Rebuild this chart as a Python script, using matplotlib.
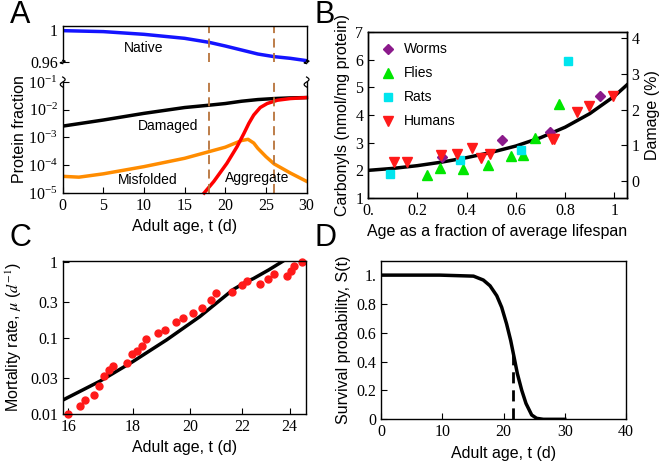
import matplotlib

matplotlib.use("Agg")
import matplotlib.pyplot as plt
import numpy as np
from matplotlib.ticker import FixedLocator, NullLocator, LogFormatterMathtext

plt.rcParams["font.family"] = ["Liberation Sans", "DejaVu Sans"]
plt.rcParams["font.serif"] = ["Liberation Serif", "DejaVu Serif"]
plt.rcParams["mathtext.fontset"] = "stix"
plt.rcParams["xtick.direction"] = "in"
plt.rcParams["ytick.direction"] = "in"
plt.rcParams["axes.linewidth"] = 1.0

# ---------------- Panel A data ----------------
native_t = [0, 5, 10, 15, 18, 20, 22, 24, 26, 28, 30]
native_v = [0.9992, 0.998, 0.9946, 0.9896, 0.9846, 0.980, 0.975, 0.970, 0.9667, 0.9646, 0.9617]

damaged_t = [0, 5, 10, 15, 18, 20, 22, 24, 26, 28, 30]
damaged_log = [-2.59, -2.37, -2.13, -1.92, -1.836, -1.776, -1.693, -1.633, -1.597, -1.573, -1.561]

misfolded_t = [0, 2, 5, 10, 15, 18, 20, 21, 22, 22.8, 23.5, 24, 25, 26, 28, 30]
misfolded_log = [-4.40, -4.43, -4.31, -4.05, -3.75, -3.51, -3.35, -3.23, -3.11, -3.066, -3.20, -3.39, -3.69, -3.95, -4.28, -4.58]

aggregate_t = [17.4, 18.6, 20.2, 21.45, 22.3, 22.9, 23.5, 24.3, 25.15, 26.4, 28.0, 30]
aggregate_log = [-5.0, -4.58, -3.93, -3.33, -2.85, -2.49, -2.19, -1.92, -1.776, -1.657, -1.597, -1.561]

event_times = [18, 26]

# ---------------- Panel B data ----------------
worms_x = [0.30, 0.545, 0.737, 0.943]
worms_y = [2.5, 3.08, 3.37, 4.67]
flies_x = [0.24, 0.29, 0.384, 0.486, 0.58, 0.63, 0.677, 0.775]
flies_y = [1.82, 2.1, 2.05, 2.2, 2.53, 2.54, 3.16, 4.4]
rats_x = [0.088, 0.373, 0.62, 0.811]
rats_y = [1.87, 2.38, 2.74, 5.95]
humans_x = [0.106, 0.156, 0.296, 0.36, 0.423, 0.457, 0.495, 0.746, 0.756, 0.848, 0.895, 0.995]
humans_y = [2.30, 2.30, 2.54, 2.6, 2.8, 2.43, 2.6, 3.13, 3.13, 4.12, 4.33, 4.7]
fit_x = [0.0, 0.1, 0.2, 0.3, 0.4, 0.5, 0.6, 0.7, 0.8, 0.9, 1.0, 1.05]
fit_y = [2.0, 2.07, 2.17, 2.3, 2.46, 2.65, 2.88, 3.18, 3.56, 4.05, 4.68, 5.08]

# ---------------- Panel C data ----------------
mort_t = [16.0, 16.35, 16.50, 16.77, 16.92, 17.08, 17.25, 17.37, 17.81, 17.99, 18.15, 18.33,
          18.45, 18.87, 19.10, 19.48, 19.73, 20.10, 20.43, 20.77, 20.97, 21.58, 22.01, 22.20,
          22.73, 23.07, 23.32, 23.90, 24.05, 24.21, 24.53]
mort_mu = [0.010, 0.0126, 0.0151, 0.0179, 0.023, 0.0311, 0.038, 0.043, 0.0466, 0.061, 0.068, 0.077,
           0.096, 0.115, 0.127, 0.162, 0.181, 0.215, 0.25, 0.315, 0.39, 0.40, 0.49, 0.55,
           0.51, 0.60, 0.68, 0.64, 0.76, 0.88, 0.98]
model_t = [15.84, 16.96, 18.02, 19.16, 20.36, 21.64, 22.2, 22.46, 23.1, 23.74]
model_mu = [0.0152, 0.027, 0.049, 0.094, 0.19, 0.43, 0.55, 0.60, 0.78, 1.03]

# ---------------- Panel D data ----------------
surv_t = [0, 9.6, 15.1, 16.7, 17.8, 18.9, 19.7, 20.5, 21.17, 21.72, 22.26, 22.97, 23.67, 24.6, 25.4, 26.5, 30]
surv_s = [1.0, 1.0, 0.993, 0.966, 0.926, 0.857, 0.777, 0.662, 0.547, 0.432, 0.317, 0.202, 0.11, 0.03, 0.007, 0.0, 0.0]
median_t = 21.5
median_s = 0.455

fig = plt.figure(figsize=(6.6, 4.62), dpi=100)

label_fs = 11.5
tick_fs = 11.5
note_fs = 10


def style_ticks(ax):
    ax.tick_params(labelsize=tick_fs, labelfontfamily="serif", length=4, width=0.8)


def break_mark(ax, x, y):
    s = np.linspace(-1, 1, 20)
    ax.plot(x + 0.01 * np.sin(np.pi * s), y + 0.045 * s, transform=ax.transAxes,
            color="black", lw=0.9, clip_on=False)


# ---------------- Panel A ----------------
axA1 = fig.add_axes([0.095, 0.8658, 0.3695, 0.0779])
axA2 = fig.add_axes([0.095, 0.5823, 0.3695, 0.2402])

axA1.plot(native_t, native_v, color="#1414ff", lw=2.5)
axA1.set_xlim(0, 30)
axA1.set_ylim(0.96, 1.005)
axA1.spines["bottom"].set_visible(False)
axA1.xaxis.set_visible(False)
axA1.set_yticks([0.96, 1.0])
axA1.set_yticklabels(["0.96", "1"])
style_ticks(axA1)
axA1.text(10, 0.977, "Native", fontsize=note_fs, ha="center", va="center")

damaged = 10 ** np.array(damaged_log)
misfolded = 10 ** np.array(misfolded_log)
aggregate = 10 ** np.array(aggregate_log)
axA2.semilogy(damaged_t, damaged, color="black", lw=2.5)
axA2.semilogy(misfolded_t, misfolded, color="#ff8c00", lw=2.5)
axA2.semilogy(aggregate_t, aggregate, color="#ff0000", lw=2.5, clip_on=False)
axA2.set_xlim(0, 30)
axA2.set_ylim(1e-5, 1e-1)
axA2.spines["top"].set_visible(False)
axA2.yaxis.set_major_locator(FixedLocator([1e-5, 1e-4, 1e-3, 1e-2, 1e-1]))
axA2.yaxis.set_major_formatter(LogFormatterMathtext())
axA2.yaxis.set_minor_locator(NullLocator())
axA2.set_xticks([0, 5, 10, 15, 20, 25, 30])
style_ticks(axA2)
axA2.set_xlabel("Adult age, t (d)", fontsize=label_fs)
axA2.set_ylabel("Protein fraction", fontsize=label_fs)
axA2.yaxis.set_label_coords(-0.145, 0.58)
axA2.text(13, 2.6e-3, "Damaged", fontsize=note_fs, ha="center", va="center")
axA2.text(10.5, 3.0e-5, "Misfolded", fontsize=note_fs, ha="center", va="center")
axA2.text(23.9, 3.6e-5, "Aggregate", fontsize=note_fs, ha="center", va="center")

for tv in event_times:
    axA1.axvline(tv, color="#b8733a", lw=1.3, ls=(0, (5, 3)))
    axA2.axvline(tv, color="#b8733a", lw=1.3, ls=(0, (5, 3)))

break_mark(axA1, 0.0, 0.0)
break_mark(axA1, 1.0, 0.0)
break_mark(axA2, 0.0, 1.0)
break_mark(axA2, 1.0, 1.0)

# ---------------- Panel B ----------------
axB = fig.add_axes([0.558, 0.5714, 0.3915, 0.3593])
axB.plot(fit_x, fit_y, color="black", lw=2.5, zorder=2)
axB.plot(worms_x, worms_y, "D", color="#8b1a8b", ms=5, ls="none", label="Worms", zorder=3)
axB.plot(flies_x, flies_y, "^", color="#00e600", ms=7, ls="none", label="Flies", zorder=3)
axB.plot(rats_x, rats_y, "s", color="#00e5ee", ms=6, ls="none", label="Rats", zorder=3)
axB.plot(humans_x, humans_y, "v", color="#ff1a1a", ms=7, ls="none", label="Humans", zorder=3)
axB.set_xlim(0, 1.05)
axB.set_ylim(1, 7)
axB.set_xticks([0, 0.2, 0.4, 0.6, 0.8, 1.0])
axB.set_xticklabels(["0.", "0.2", "0.4", "0.6", "0.8", "1"])
axB.set_yticks([1, 2, 3, 4, 5, 6, 7])
style_ticks(axB)
axB.set_xlabel("Age as a fraction of average lifespan", fontsize=label_fs)
axB.set_ylabel("Carbonyls (nmol/mg protein)", fontsize=label_fs)
axB.legend(loc="upper left", frameon=False, fontsize=10, handletextpad=0.5,
           labelspacing=0.72, borderaxespad=0.35, handlelength=1.3, borderpad=0.4)

axB2 = axB.twinx()
axB2.set_ylim((1 - 1.625) / 1.286, (7 - 1.625) / 1.286)
axB2.set_yticks([0, 1, 2, 3, 4])
style_ticks(axB2)
axB2.set_ylabel("Damage (%)", fontsize=label_fs)

# ---------------- Panel C ----------------
axC = fig.add_axes([0.095, 0.1039, 0.3686, 0.3318])
axC.plot(model_t, model_mu, color="black", lw=2.5, clip_on=True)
axC.plot(mort_t, mort_mu, "o", color="#ff1a1a", ms=5, ls="none", clip_on=False)
axC.set_xscale("log")
axC.set_yscale("log")
axC.set_xlim(15.84, 24.73)
axC.set_ylim(0.01, 1.03)
axC.xaxis.set_major_locator(FixedLocator([16, 18, 20, 22, 24]))
axC.xaxis.set_minor_locator(NullLocator())
axC.set_xticklabels(["16", "18", "20", "22", "24"])
axC.yaxis.set_major_locator(FixedLocator([0.01, 0.03, 0.1, 0.3, 1]))
axC.yaxis.set_minor_locator(NullLocator())
axC.set_yticklabels(["0.01", "0.03", "0.1", "0.3", "1"])
style_ticks(axC)
axC.set_xlabel("Adult age, t (d)", fontsize=label_fs)
axC.set_ylabel(r"Mortality rate, $\mu$ ($d^{-1}$)", fontsize=label_fs)

# ---------------- Panel D ----------------
axD = fig.add_axes([0.5773, 0.0924, 0.3712, 0.3433])
axD.plot(surv_t, surv_s, color="black", lw=2.5)
axD.plot([median_t, median_t], [0, median_s], color="black", lw=2, ls=(0, (4, 2.5)))
axD.set_xlim(0, 40)
axD.set_ylim(0, 1.1)
axD.set_xticks([0, 10, 20, 30, 40])
axD.set_yticks([0, 0.2, 0.4, 0.6, 0.8, 1.0])
axD.set_yticklabels(["0", "0.2", "0.4", "0.6", "0.8", "1."])
style_ticks(axD)
axD.set_xlabel("Adult age, t (d)", fontsize=label_fs)
axD.set_ylabel("Survival probability, S(t)", fontsize=label_fs)

# panel letters
for letter, x, y in [("A", 0.015, 0.968), ("B", 0.477, 0.968), ("C", 0.015, 0.485), ("D", 0.477, 0.485)]:
    fig.text(x, y, letter, fontsize=22, ha="left", va="center")

fig.savefig("out.png", dpi=100)
